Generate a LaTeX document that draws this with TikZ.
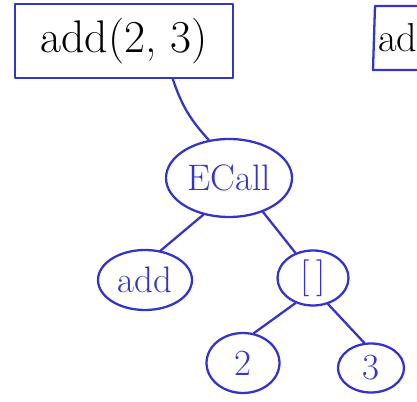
\documentclass[tikz,border=0pt]{standalone}
\usepackage{tikz}
\usetikzlibrary{shapes.geometric}
\definecolor{penblue}{RGB}{52,52,200}

\begin{document}
\begin{tikzpicture}[x=0.02cm, y=-0.02cm,
  every path/.style={line width=1.3pt, line cap=round, line join=round},
  exprbox/.style={draw=penblue, rectangle, inner sep=0pt, font=\fontsize{26}{30}\selectfont},
  treenode/.style={draw=penblue, ellipse, inner sep=0pt, text=penblue, font=\fontsize{21}{24}\selectfont},
  edge/.style={draw=penblue}]
  % Page size
  \useasboundingbox (0,0) rectangle (417,402);

  % Expression boxes
  \node[exprbox, minimum width=4.36cm, minimum height=1.48cm] (expr) at (124,41) {add(2, 3)};
  \node[anchor=west, inner sep=0pt, font=\fontsize{23}{28}\selectfont] (exprcut) at (377,38) {ad};
  \draw[penblue] (417,6) -- (375,6) -- (373,70) -- (417,70);

  % Tree nodes
  \node[treenode, minimum width=2.52cm, minimum height=1.56cm] (ecall) at (229,178) {ECall};
  \node[treenode, minimum width=1.88cm, minimum height=1.2cm] (add) at (145,280) {add};
  \node[treenode, minimum width=1.42cm, minimum height=1.1cm] (list) at (313,278) {[\,]};
  \node[treenode, minimum width=1.46cm, minimum height=1.2cm] (two) at (243,363) {2};
  \node[treenode, minimum width=1.32cm, minimum height=0.98cm] (three) at (371,368) {3};

  % Edges
  \draw[edge] (expr.-38) to[bend right=12] (ecall.118);
  \draw[edge] (ecall.235) -- (add.62);
  \draw[edge] (ecall.-45) -- (list.125);
  \draw[edge] (list.235) -- (two.70);
  \draw[edge] (list.-60) -- (three.105);
\end{tikzpicture}
\end{document}
